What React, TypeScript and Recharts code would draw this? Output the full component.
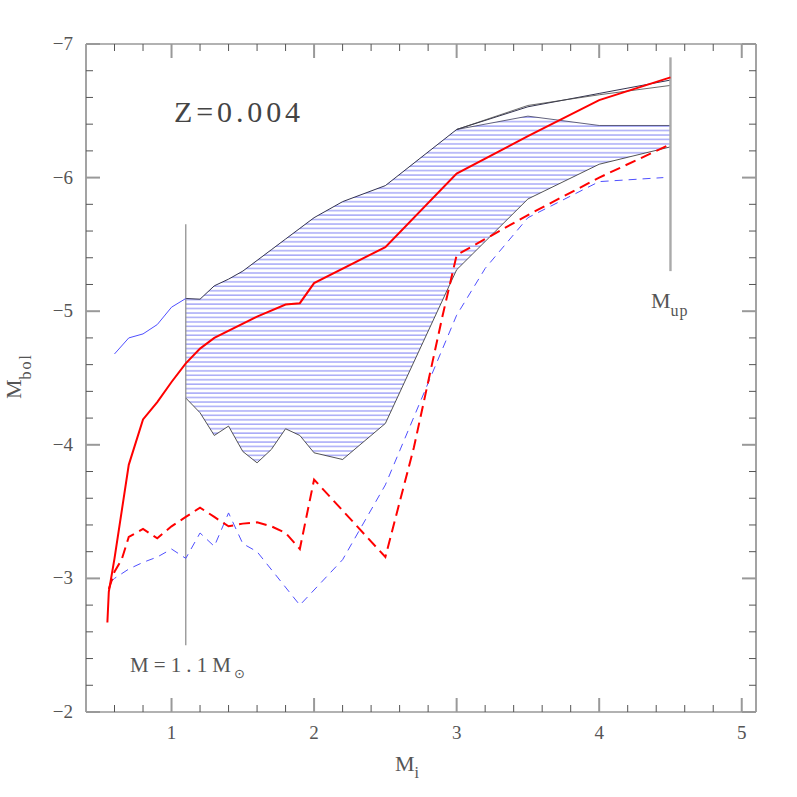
import React from "react";
import { ComposedChart, Line, Area, XAxis, YAxis } from "recharts";

// ---------- data ----------
const redSolidX = [0.55, 0.56, 0.6, 0.7, 0.8, 0.9, 1.0, 1.1, 1.2, 1.3, 1.6, 1.8, 1.9, 2.0, 2.5, 3.0, 3.5, 4.0, 4.5];
const redSolidY = [-2.67, -2.9, -3.15, -3.85, -4.19, -4.32, -4.47, -4.61, -4.72, -4.8, -4.96, -5.05, -5.06, -5.21, -5.48, -6.03, -6.31, -6.58, -6.75];

const blueSolidX = [0.6, 0.7, 0.8, 0.9, 1.0, 1.1];
const blueSolidY = [-4.68, -4.8, -4.83, -4.9, -5.03, -5.095];

const redDashX = [0.56, 0.6, 0.65, 0.7, 0.8, 0.9, 1.0, 1.1, 1.2, 1.3, 1.4, 1.5, 1.6, 1.7, 1.8, 1.9, 2.0, 2.5, 2.7, 2.9, 3.0, 3.5, 4.0, 4.5];
const redDashY = [-2.92, -3.05, -3.14, -3.31, -3.37, -3.3, -3.39, -3.46, -3.53, -3.46, -3.39, -3.41, -3.42, -3.39, -3.34, -3.22, -3.74, -3.16, -3.98, -4.96, -5.42, -5.72, -6.0, -6.25];

const blueDashX = [0.57, 0.6, 0.7, 0.8, 0.9, 1.0, 1.1, 1.2, 1.3, 1.4, 1.5, 1.6, 1.9, 2.2, 2.5, 3.0, 3.2, 3.5, 4.0, 4.45];
const blueDashY = [-2.97, -3.0, -3.07, -3.12, -3.16, -3.22, -3.15, -3.34, -3.24, -3.49, -3.26, -3.2, -2.8, -3.14, -3.7, -4.97, -5.32, -5.7, -5.97, -6.0];

const hatchX = [1.1, 1.2, 1.3, 1.4, 1.5, 1.6, 1.7, 1.8, 1.9, 2.0, 2.2, 2.5, 3.0, 3.5, 4.0, 4.5];
const hatchLow = [-4.35, -4.24, -4.07, -4.14, -3.95, -3.865, -3.965, -4.12, -4.07, -3.94, -3.89, -4.16, -5.31, -5.84, -6.1, -6.23];
const hatchHigh = [-5.095, -5.09, -5.19, -5.24, -5.3, -5.38, -5.46, -5.54, -5.62, -5.7, -5.82, -5.94, -6.36, -6.46, -6.39, -6.39];

const upperEdgeX = [1.1, 1.2, 1.3, 1.4, 1.5, 1.6, 1.7, 1.8, 1.9, 2.0, 2.2, 2.5, 3.0, 3.5, 4.0, 4.5];
const upperEdgeY = [-5.095, -5.09, -5.19, -5.24, -5.3, -5.38, -5.46, -5.54, -5.62, -5.7, -5.82, -5.94, -6.36, -6.53, -6.63, -6.73];

const secondTopX = [3.0, 3.5, 4.0, 4.5];
const secondTopY = [-6.36, -6.54, -6.62, -6.69];

const innerTopX = [3.0, 3.5, 4.0, 4.5];
const innerTopY = [-6.36, -6.46, -6.39, -6.39];

const markerLowX = [1.1, 1.1];
const markerLowY = [-5.65, -2.5];
const markerUpX = [4.5, 4.5];
const markerUpY = [-6.9, -5.3];

const xTicks = [0.6, 0.8, 1, 1.2, 1.4, 1.6, 1.8, 2, 2.2, 2.4, 2.6, 2.8, 3, 3.2, 3.4, 3.6, 3.8, 4, 4.2, 4.4, 4.6, 4.8, 5];
const yTicks = [-7, -6.8, -6.6, -6.4, -6.2, -6, -5.8, -5.6, -5.4, -5.2, -5, -4.8, -4.6, -4.4, -4.2, -4, -3.8, -3.6, -3.4, -3.2, -3, -2.8, -2.6, -2.4, -2.2, -2];

// ---------- helpers ----------
const zip = (xs: number[], ys: number[]) => xs.map((x, i) => ({ x, y: ys[i] }));
const hatchData = hatchX.map((x, i) => ({ x, lo: hatchLow[i], hi: hatchHigh[i] }));
const isMajor = (v: number) => Math.abs(v - Math.round(v)) < 1e-6;

const FONT = "'Liberation Serif', 'DejaVu Serif', serif";
const TXT = "#555";
const MAJ = 14;
const MIN = 7;

const BottomTick = (p: any) => {
  const { x, y, payload } = p;
  const v = payload.value;
  const m = isMajor(v);
  return (
    <g>
      <line x1={x} x2={x} y1={y} y2={y - (m ? MAJ : MIN)} stroke={m ? "#999" : "#555"} strokeWidth={m ? 2 : 1} />
      {m && (
        <text x={x} y={y + 27} textAnchor="middle" fontFamily={FONT} fontSize={19} fill={TXT}>
          {String(Math.round(v))}
        </text>
      )}
    </g>
  );
};
const TopTick = (p: any) => {
  const { x, y, payload } = p;
  const m = isMajor(payload.value);
  return <line x1={x} x2={x} y1={y} y2={y + (m ? MAJ : MIN)} stroke={m ? "#999" : "#555"} strokeWidth={m ? 2 : 1} />;
};
const LeftTick = (p: any) => {
  const { x, y, payload } = p;
  const v = payload.value;
  const m = isMajor(v);
  return (
    <g>
      <line x1={x} x2={x + (m ? MAJ : MIN)} y1={y} y2={y} stroke={m ? "#999" : "#555"} strokeWidth={m ? 2 : 1} />
      {m && (
        <text x={x - 13} y={y + 6} textAnchor="end" fontFamily={FONT} fontSize={19} fill={TXT}>
          {"\u2212" + String(Math.abs(Math.round(v)))}
        </text>
      )}
    </g>
  );
};
const RightTick = (p: any) => {
  const { x, y, payload } = p;
  const m = isMajor(payload.value);
  return <line x1={x} x2={x - (m ? MAJ : MIN)} y1={y} y2={y} stroke={m ? "#999" : "#555"} strokeWidth={m ? 2 : 1} />;
};

const W = 797;
const H = 797;

export default function App() {
  const axisLine = { stroke: "#666", strokeWidth: 1.2 };
  const lineCommon = { xAxisId: "b", yAxisId: "l", dataKey: "y", dot: false, activeDot: false, isAnimationActive: false, type: "linear" as const };
  return (
    <div style={{ position: "absolute", left: 0, top: 0, width: W, height: H, background: "#fff" }}>
      <ComposedChart width={W} height={H} margin={{ top: 0, right: 0, bottom: 0, left: 0 }}>
        <defs>
          <pattern id="hatch" patternUnits="userSpaceOnUse" x={0} y={0.5} width={10} height={4.45}>
            <line x1={0} x2={10} y1={1} y2={1} stroke="#9a9cf6" strokeWidth={1.3} />
          </pattern>
        </defs>
        <XAxis xAxisId="b" type="number" dataKey="x" orientation="bottom" domain={[0.4, 5.1]} allowDataOverflow
          ticks={xTicks} interval={0} height={85} tickSize={0} tickMargin={0} tickLine={false} axisLine={axisLine} tick={BottomTick} />
        <XAxis xAxisId="t" type="number" dataKey="x" orientation="top" domain={[0.4, 5.1]} allowDataOverflow
          ticks={xTicks} interval={0} height={44} tickSize={0} tickMargin={0} tickLine={false} axisLine={axisLine} tick={TopTick} />
        <YAxis yAxisId="l" type="number" orientation="left" domain={[-7, -2]} reversed allowDataOverflow
          ticks={yTicks} interval={0} width={86} tickSize={0} tickMargin={0} tickLine={false} axisLine={axisLine} tick={LeftTick} />
        <YAxis yAxisId="r" type="number" orientation="right" domain={[-7, -2]} reversed allowDataOverflow
          ticks={yTicks} interval={0} width={41} tickSize={0} tickMargin={0} tickLine={false} axisLine={axisLine} tick={RightTick} />

        <Area xAxisId="b" yAxisId="l" data={hatchData} dataKey={(d: any) => [d.lo, d.hi]} type="linear"
          stroke="none" fill="url(#hatch)" fillOpacity={1} isAnimationActive={false} dot={false} activeDot={false} />

        <Line {...lineCommon} data={zip(upperEdgeX, upperEdgeY)} stroke="#1c1c3c" strokeWidth={0.9} />
        <Line {...lineCommon} data={zip(secondTopX, secondTopY)} stroke="#444" strokeWidth={0.8} />
        <Line {...lineCommon} data={zip(innerTopX, innerTopY)} stroke="#3a3a5a" strokeWidth={0.8} />
        <Line {...lineCommon} data={zip(hatchX, hatchLow)} stroke="#2a2a2a" strokeWidth={0.8} />

        <Line {...lineCommon} data={zip(markerLowX, markerLowY)} stroke="#888" strokeWidth={1.2} />
        <Line {...lineCommon} data={zip(markerUpX, markerUpY)} stroke="#aaa" strokeWidth={2.4} />

        <Line {...lineCommon} data={zip(blueSolidX, blueSolidY)} stroke="#4f4fff" strokeWidth={1} />
        <Line {...lineCommon} data={zip(blueDashX, blueDashY)} stroke="#4f4fff" strokeWidth={1} strokeDasharray="8 6" />
        <Line {...lineCommon} data={zip(redDashX, redDashY)} stroke="#ff0000" strokeWidth={2} strokeDasharray="11 6" />
        <Line {...lineCommon} data={zip(redSolidX, redSolidY)} stroke="#ff0000" strokeWidth={2} />

        <text x={174} y={122} fontFamily={FONT} fontSize={30} fill="#444" textLength={126} lengthAdjust="spacing">Z=0.004</text>
        <text x={130} y={672} fontFamily={FONT} fontSize={21} fill="#555" textLength={101} lengthAdjust="spacing">M=1.1M</text>
        <text x={234} y={678} fontFamily="'DejaVu Sans', sans-serif" fontSize={13} fill="#555">{"\u2299"}</text>
        <text x={651} y={308} fontFamily={FONT} fontSize={22} fill="#555">
          M<tspan dy={8} fontSize={16} letterSpacing={1}>up</tspan>
        </text>
        <text x={395} y={771} fontFamily={FONT} fontSize={22} fill="#555">
          M<tspan dy={7} fontSize={16}>i</tspan>
        </text>
        <text x={0} y={0} transform="translate(21,399) rotate(-90)" fontFamily={FONT} fontSize={22} fill="#555">
          M<tspan dy={10} fontSize={16} letterSpacing={2}>bol</tspan>
        </text>
      </ComposedChart>
    </div>
  );
}
